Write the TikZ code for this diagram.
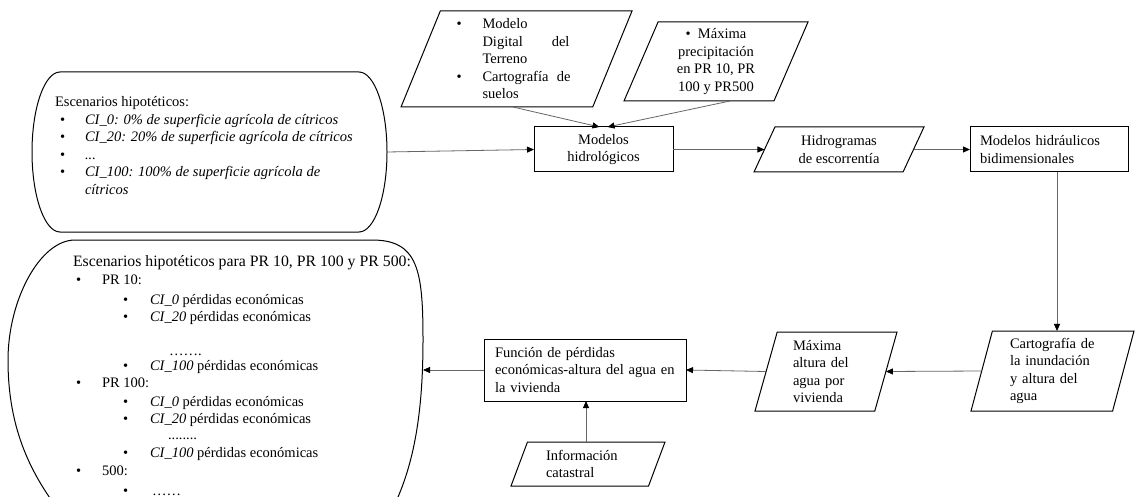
\documentclass[tikz,border=0pt]{standalone}
\usepackage{fontspec}
\setmainfont{Liberation Serif}
\usetikzlibrary{shapes.geometric,arrows.meta}
\begin{document}
\begin{tikzpicture}[x=1pt,y=-1pt,
  txt/.style={font=\fontsize{14.5}{17.5}\selectfont, inner sep=0pt, outer sep=0pt},
  outline/.style={draw=black, line width=1pt},
  box/.style={txt, outline, rectangle},
  para/.style={txt, outline, trapezium, trapezium stretches body},
  ghost/.style={inner sep=0pt, outer sep=0pt},
  conn/.style={draw=black!60, line width=0.8pt, -{Triangle[length=7pt,width=6pt,color=black]}},
  ln/.style={txt, anchor=base west}
]
\useasboundingbox (0,0) rectangle (1137,497);
\clip (0,0) rectangle (1137,497);
\fill[white] (0,0) rectangle (1137,497);

% ---------- top-left scenarios shape ----------
\node[ghost, minimum width=355pt, minimum height=160pt] (A) at (209.5,152) {};
\draw[outline] ([xshift=28pt]A.north west) -- ([xshift=-28pt]A.north east)
  arc[start angle=90, end angle=-90, x radius=28pt, y radius=80pt]
  -- ([xshift=28pt]A.south west)
  arc[start angle=270, end angle=90, x radius=28pt, y radius=80pt] -- cycle;
\node[ln] (a0) at (55,107) {Escenarios hipotéticos:};
\node[ln] (a1b) at (60,124.5) {•};
\node[ln] (a1) at (85,124.5) {\textit{CI\_0: 0\% de superficie agrícola de cítricos}};
\node[ln] (a2b) at (60,142) {•};
\node[ln] (a2) at (85,142) {\textit{CI\_20: 20\% de superficie agrícola de cítricos}};
\node[ln] (a3b) at (60,159.5) {•};
\node[ln] (a3) at (85,159.5) {\textit{...}};
\node[ln] (a4b) at (60,177) {•};
\node[ln] (a4) at (85,177) {\textit{CI\_100: 100\% de superficie agrícola de}};
\node[ln] (a5) at (85,194.5) {\textit{cítricos}};

% ---------- bottom-left results shape ----------
\node[ghost, minimum width=415pt, minimum height=275pt] (E) at (215.5,377.5) {};
\draw[outline] (75,240) -- (372,240)
  .. controls (418,240) and (423,270) .. (423,340)
  .. controls (423,420) and (412,470) .. (392,510)
  -- (392,540) -- (60,540) -- (60,512)
  .. controls (28,470) and (8,425) .. (8,360)
  .. controls (8,300) and (40,240) .. (75,240) -- cycle;
\node[ln, font=\fontsize{15.8}{17.5}\selectfont] (e0) at (73,266) {Escenarios hipotéticos para PR 10, PR 100 y PR 500:};
\node[ln] (e1b) at (76,284) {•};
\node[ln] (e1) at (102,284) {PR 10:};
\node[ln] (e2b) at (123,304) {•};
\node[ln] (e2) at (150,304) {\textit{CI\_0} pérdidas económicas};
\node[ln] (e3b) at (123,321) {•};
\node[ln] (e3) at (150,321) {\textit{CI\_20} pérdidas económicas};
\node[ln] (e4) at (169,355) {…….};
\node[ln] (e5b) at (123,370) {•};
\node[ln] (e5) at (150,370) {\textit{CI\_100} pérdidas económicas};
\node[ln] (e6b) at (76,387) {•};
\node[ln] (e6) at (102,387) {PR 100:};
\node[ln] (e7b) at (123,406) {•};
\node[ln] (e7) at (150,406) {\textit{CI\_0} pérdidas económicas};
\node[ln] (e8b) at (123,423) {•};
\node[ln] (e8) at (150,423) {\textit{CI\_20} pérdidas económicas};
\node[ln] (e9) at (168,439) {........};
\node[ln] (e10b) at (123,457) {•};
\node[ln] (e10) at (150,457) {\textit{CI\_100} pérdidas económicas};
\node[ln] (e11b) at (76,475) {•};
\node[ln] (e11) at (102,475) {500:};
\node[ln] (e12b) at (123,495) {•};
\node[ln] (e12) at (152,495) {……};

% ---------- flow nodes ----------
\node[para, trapezium left angle=63.9, trapezium right angle=116.1,
      minimum width=231pt, minimum height=96pt, text width=120pt, align=left] (P1) at (516.5,59)
  {\makebox[26pt][l]{•}Modelo\\
   \hspace*{26pt}\makebox[87pt][l]{Digital\hfill del}\\
   \hspace*{26pt}Terreno\\
   \makebox[26pt][l]{•}\makebox[88pt][l]{Cartografía\hfill de}\\
   \hspace*{26pt}suelos};
\node[para, trapezium left angle=62.6, trapezium right angle=117.4,
      minimum width=184pt, minimum height=79pt, align=center] (P2) at (716,61.5)
  {• \ Máxima\\precipitación\\en PR 10, PR\\100 y PR500};
\node[box, minimum width=139pt, minimum height=45pt, align=center] (B) at (603.5,149.5)
  {Modelos\\hidrológicos};
\node[para, trapezium left angle=52.9, trapezium right angle=127.1,
      minimum width=170pt, minimum height=45pt, align=center] (P3) at (839,149.5)
  {Hidrogramas\\de escorrentía};
\node[box, minimum width=158pt, minimum height=45pt, text width=138pt, align=left] (C) at (1049,149.5)
  {Modelos hidráulicos\\bidimensionales};
\node[para, trapezium left angle=72, trapezium right angle=108,
      minimum width=163pt, minimum height=80pt, text width=85pt, align=left] (P5) at (1052.5,371)
  {Cartografía de\\la inundación\\y altura del\\agua};
\node[para, trapezium left angle=70.5, trapezium right angle=109.5,
      minimum width=142pt, minimum height=79pt, text width=66pt, align=left] (P4) at (826,371.5)
  {Máxima\\altura del\\agua por\\vivienda};
\node[box, minimum width=202pt, minimum height=62pt, text width=180pt, align=left] (D) at (585,370)
  {Función de pérdidas\\económicas-altura del agua en\\la vivienda};
\node[para, trapezium left angle=59.4, trapezium right angle=120.6,
      minimum width=154pt, minimum height=44pt, text width=84pt, align=left] (P6) at (588,464)
  {Información\\catastral};

% ---------- connectors ----------
\draw[conn] (A.east) -- (B.west);
\draw[conn] ([xshift=-3.5pt]P1.center |- P1.south) -- ([xshift=-4pt]B.north);
\draw[conn] ([xshift=14pt]P2.center |- P2.south) -- ([xshift=4pt]B.north);
\draw[conn] (B.east) -- (P3.left side);
\draw[conn] (P3.right side) -- (C.west);
\draw[conn] ([xshift=8pt]C.south) -- ([xshift=8pt]C.south |- P5.north);
\draw[conn] (P5.left side) -- (P4.right side);
\draw[conn] (P4.left side) -- (D.east);
\draw[conn] (D.west) -- (D.west -| E.east);
\draw[conn] ([xshift=-2pt]P6.center |- P6.north) -- ([xshift=-2pt]P6.center |- D.south);
\end{tikzpicture}
\end{document}
